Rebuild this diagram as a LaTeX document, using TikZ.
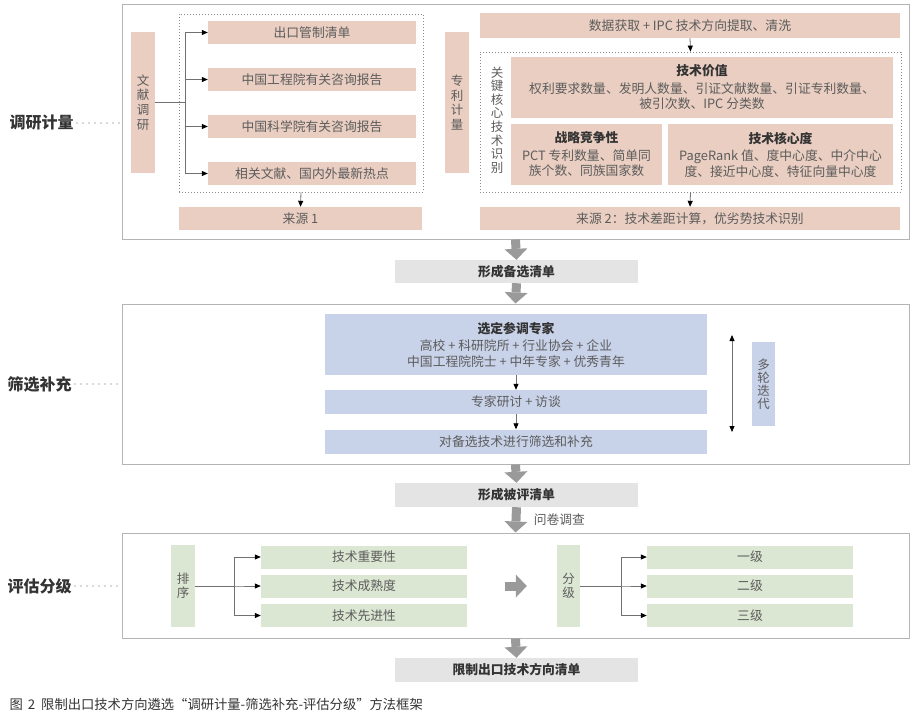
\documentclass[tikz,border=0pt]{standalone}
\usepackage{fontspec}
\setmainfont{Noto Sans CJK SC}
\usetikzlibrary{arrows.meta, positioning, calc}

\begin{document}
\begin{tikzpicture}[
    every node/.style={font=\fontsize{12.8}{15.5}\selectfont, text=txtcolor},
    panel/.style={draw=panelline, line width=1pt, fill=white, inner sep=0pt},
    dotframe/.style={draw=dotline, line width=0.8pt, dash pattern=on 1pt off 2pt, inner sep=0pt},
    pinkbox/.style={fill=c1, inner sep=0pt, align=center},
    bluebox/.style={fill=c2, inner sep=0pt, align=center},
    greenbox/.style={fill=c3, inner sep=0pt, align=center},
    listbox/.style={fill=c4, inner sep=0pt, text=titlecolor,
                    font=\fontsize{12.8}{15}\selectfont\bfseries},
    vtext/.style={align=center, font=\fontsize{12.5}{14.7}\selectfont},
    stagelabel/.style={anchor=west, text=titlecolor,
                       font=\fontsize{16}{18}\selectfont\bfseries},
    leader/.style={draw=txtcolor, line width=1.3pt, line cap=round,
                   dash pattern=on 0pt off 6pt},
    tiparrow/.style={draw=lineclr, line width=0.8pt,
                     -{Triangle[length=6pt, width=5pt, color=black]}},
    flowarrow/.style={draw=arrowgray, line width=9pt,
                      -{Triangle[length=11pt, width=23pt, line width=0pt]}},
]

\definecolor{c1}{HTML}{E9CEC1}   % survey stage
\definecolor{c2}{HTML}{C8D2E8}   % screening stage
\definecolor{c3}{HTML}{DCE7D3}   % grading stage
\definecolor{c4}{HTML}{E4E4E4}   % the lists between stages
\definecolor{arrowgray}{HTML}{9A9A9A}
\definecolor{panelline}{HTML}{B4B4B4}
\definecolor{dotline}{HTML}{8A8A8A}
\definecolor{lineclr}{HTML}{707070}
\definecolor{txtcolor}{HTML}{5C5C5C}
\definecolor{titlecolor}{HTML}{333333}

% pixel coordinates of the figure, y pointing down
\begin{scope}[x=1pt, y=-1pt]

    \useasboundingbox (0,0) rectangle (918,712);

    % ------------------------------------------------------------ stage 1
    \node[panel, minimum width=787pt, minimum height=235pt] (topbox) at (515.5,121.5) {};
    \node[stagelabel] (dyjl) at (6,123) {调研计量};
    \draw[leader] (dyjl.east) -- (dyjl.east -| topbox.west);

    % literature side
    \node[pinkbox, vtext, minimum width=24pt, minimum height=141pt] (wxdy) at (143,102.5)
        {文\\献\\调\\研};
    \node[dotframe, minimum width=244pt, minimum height=178pt] (frame1) at (301,103) {};
    \foreach \n/\y/\t in {w1/32.5/出口管制清单, w2/79.5/中国工程院有关咨询报告,
                          w3/126.5/中国科学院有关咨询报告, w4/173.5/相关文献、国内外最新热点} {
        \node[pinkbox, minimum width=208pt, minimum height=23pt] (\n) at (312,\y) {\t};
        \draw[tiparrow] (wxdy.east) -- ++(30,0) |- (\n.west);
    }
    \node[pinkbox, minimum width=243pt, minimum height=23pt] (ly1) at (300.5,218.5) {来源 1};
    \draw[tiparrow] (frame1.south) -- (ly1.north);

    % patent side
    \node[pinkbox, vtext, minimum width=24pt, minimum height=141pt] (zljl) at (457,102.5)
        {专\\利\\计\\量};
    \node[pinkbox, minimum width=420pt, minimum height=25pt] (sjhq) at (690,25.5)
        {数据获取 + IPC 技术方向提取、清洗};
    \node[dotframe, minimum width=421pt, minimum height=140pt] (frame2) at (690.5,122) {};
    \draw[tiparrow] (sjhq.south) -- (frame2.north);
    \node[vtext, font=\fontsize{12.5}{13.6}\selectfont] (gjhx) at (497,120)
        {关\\键\\核\\心\\技\\术\\识\\别};

    \node[pinkbox, minimum width=382pt, minimum height=61pt] (jsjz) at (702,87.5)
        {{\bfseries\color{titlecolor}技术价值}\\[2pt]
         权利要求数量、发明人数量、引证文献数量、引证专利数量、\\
         被引次数、IPC 分类数};
    \node[pinkbox, minimum width=151pt, minimum height=61pt] (zljz) at (586.5,154.5)
        {{\bfseries\color{titlecolor}战略竞争性}\\[2pt]
         PCT 专利数量、简单同\\族个数、同族国家数};
    \node[pinkbox, minimum width=225pt, minimum height=61pt] (jshx) at (780.5,154.5)
        {{\bfseries\color{titlecolor}技术核心度}\\[2pt]
         PageRank 值、度中心度、中介中心\\度、接近中心度、特征向量中心度};

    \node[pinkbox, minimum width=420pt, minimum height=23pt] (ly2) at (690,218.5)
        {来源 2：技术差距计算，优劣势技术识别};
    \draw[tiparrow] (frame2.south) -- (ly2.north);

    % ------------------------------------------------------------ candidate list
    \node[listbox, minimum width=243pt, minimum height=23pt] (bxqd) at (516.5,271.5) {形成备选清单};
    \draw[flowarrow] (topbox.south) -- (bxqd.north);

    % ------------------------------------------------------------ stage 2
    \node[panel, minimum width=787pt, minimum height=160pt] (midbox) at (515.5,384) {};
    \draw[flowarrow] (bxqd.south) -- (midbox.north);
    \node[stagelabel] (sxbc) at (4,384) {筛选补充};
    \draw[leader] (sxbc.east) -- (sxbc.east -| midbox.west);

    \node[bluebox, minimum width=382pt, minimum height=61pt] (xdzj) at (516,344.5)
        {{\bfseries\color{titlecolor}选定参调专家}\\[2pt]
         高校 + 科研院所 + 行业协会 + 企业\\
         中国工程院院士 + 中年专家 + 优秀青年};
    \node[bluebox, minimum width=382pt, minimum height=24pt] (zjyt) at (516,402) {专家研讨 + 访谈};
    \node[bluebox, minimum width=382pt, minimum height=24pt] (dbxj) at (516,441.5) {对备选技术进行筛选和补充};
    \draw[tiparrow] (xdzj.south) -- (zjyt.north);
    \draw[tiparrow] (zjyt.south) -- (dbxj.north);

    % rounds of iteration
    \coordinate (ddtop) at (732,335);
    \coordinate (ddbot) at (732,432);
    \draw[draw=lineclr, line width=0.8pt,
          {Triangle[length=6pt, width=5pt, color=black]}-{Triangle[length=6pt, width=5pt, color=black]}]
        (ddtop) -- (ddbot);
    \node[bluebox, vtext, font=\fontsize{12.5}{13}\selectfont, minimum width=23pt, minimum height=84pt]
        (dldd) at (763.5,384) {多\\轮\\迭\\代};

    % ------------------------------------------------------------ list to assess
    \node[listbox, minimum width=243pt, minimum height=24pt] (bpqd) at (516.5,495) {形成被评清单};
    \draw[flowarrow] (midbox.south) -- (bpqd.north);

    % ------------------------------------------------------------ stage 3
    \node[panel, minimum width=787pt, minimum height=105pt] (botbox) at (515.5,585.5) {};
    \draw[flowarrow] (bpqd.south) -- (botbox.north)
        node[midway, right=10pt] (wjdc) {问卷调查};
    \node[stagelabel] (pgfj) at (4,586) {评估分级};
    \draw[leader] (pgfj.east) -- (pgfj.east -| botbox.west);

    \node[greenbox, vtext, font=\fontsize{12.5}{14}\selectfont, minimum width=24pt, minimum height=82pt]
        (px) at (183,586) {排\\序};
    \foreach \n/\y/\t in {r1/557/技术重要性, r2/586/技术成熟度, r3/615.5/技术先进性} {
        \node[greenbox, minimum width=206pt, minimum height=23pt] (\n) at (364,\y) {\t};
        \draw[tiparrow] (px.east) -- ++(39,0) |- (\n.west);
    }

    \node[greenbox, vtext, font=\fontsize{12.5}{14}\selectfont, minimum width=23pt, minimum height=82pt]
        (fj) at (568.5,586) {分\\级};
    \draw[flowarrow, shorten <=38pt, shorten >=30pt] (r2.east) -- (fj.west);
    \foreach \n/\y/\t in {g1/557/一级, g2/586/二级, g3/615.5/三级} {
        \node[greenbox, minimum width=206pt, minimum height=23pt] (\n) at (750,\y) {\t};
        \draw[tiparrow] (fj.east) -- ++(41,0) |- (\n.west);
    }

    % ------------------------------------------------------------ final list
    \node[listbox, minimum width=243pt, minimum height=24pt] (xzqd) at (516.5,670) {限制出口技术方向清单};
    \draw[flowarrow] (botbox.south) -- (xzqd.north);

    \node[anchor=west, font=\fontsize{13.3}{15}\selectfont, text=titlecolor] (caption) at (6,704)
        {图\hspace{5pt}2\hspace{6pt}限制出口技术方向遴选“调研计量-筛选补充-评估分级”方法框架};

\end{scope}

\end{tikzpicture}
\end{document}
